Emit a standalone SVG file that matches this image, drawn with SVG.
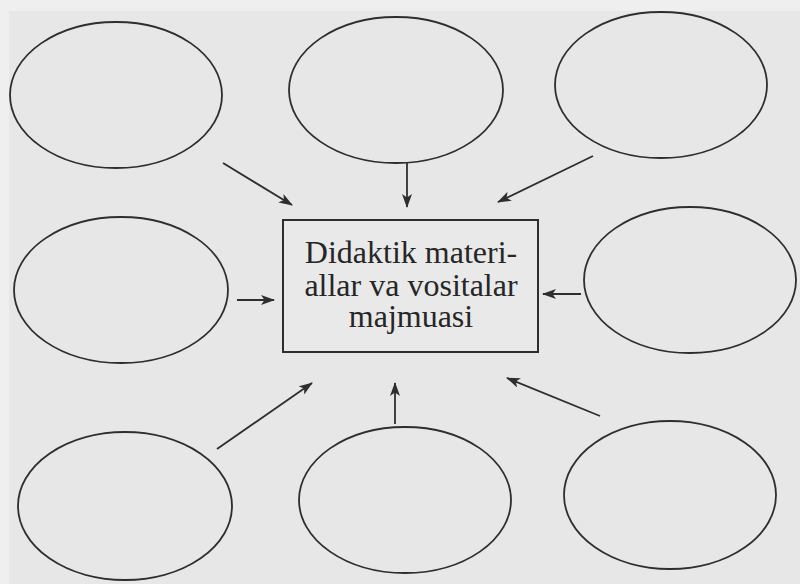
<svg xmlns="http://www.w3.org/2000/svg" width="800" height="584" viewBox="0 0 800 584">
  <defs>
    <style>
      .bg { fill: #e7e7e7; }
      .node { fill: none; stroke: #2e2e2e; stroke-width: 1.8; }
      .box { fill: #e9e9e9; stroke: #2e2e2e; stroke-width: 2; }
      .conn line { stroke: #2e2e2e; stroke-width: 1.8; marker-end: url(#arrow); }
      .label { font-family: "Liberation Serif", "Times New Roman", serif; font-size: 32px; fill: #262626; text-anchor: middle; }
    </style>
    <marker id="arrow" viewBox="0 0 14 10" refX="13" refY="5" markerWidth="14" markerHeight="10" markerUnits="userSpaceOnUse" orient="auto">
      <path d="M0,0 L14,5 L0,10 L3.5,5 z" fill="#2e2e2e"/>
    </marker>
  </defs>
  <rect class="bg" x="0" y="0" width="800" height="584"/>
  <rect x="0" y="0" width="800" height="11" fill="#efefef"/>
  <rect x="0" y="0" width="9" height="584" fill="#efefef"/>

  <g id="ellipse-top-left"><ellipse class="node" cx="116" cy="95" rx="106" ry="73"/></g>
  <g id="ellipse-top-middle"><ellipse class="node" cx="396" cy="90" rx="107" ry="73"/></g>
  <g id="ellipse-top-right"><ellipse class="node" cx="661" cy="85" rx="106" ry="73"/></g>
  <g id="ellipse-middle-left"><ellipse class="node" cx="121" cy="290" rx="107" ry="73"/></g>
  <g id="ellipse-middle-right"><ellipse class="node" cx="690" cy="280" rx="106" ry="73"/></g>
  <g id="ellipse-bottom-left"><ellipse class="node" cx="125" cy="506" rx="107" ry="74"/></g>
  <g id="ellipse-bottom-middle"><ellipse class="node" cx="405" cy="500" rx="106" ry="73"/></g>
  <g id="ellipse-bottom-right"><ellipse class="node" cx="670" cy="495" rx="106" ry="74"/></g>

  <g id="center">
    <rect class="box" x="283" y="220" width="255" height="132"/>
    <text class="label" x="411" y="263">Didaktik materi-</text>
    <text class="label" x="411" y="296">allar va vositalar</text>
    <text class="label" x="411" y="327">majmuasi</text>
  </g>

  <g id="connectors" class="conn">
    <line x1="223" y1="163" x2="292" y2="205"/>
    <line x1="407" y1="163" x2="407" y2="207"/>
    <line x1="593" y1="156" x2="498" y2="202"/>
    <line x1="237" y1="300" x2="274" y2="300"/>
    <line x1="581" y1="294" x2="543" y2="294"/>
    <line x1="217" y1="449" x2="312" y2="383"/>
    <line x1="395" y1="424" x2="395" y2="383"/>
    <line x1="600" y1="416" x2="507" y2="378"/>
  </g>
</svg>
